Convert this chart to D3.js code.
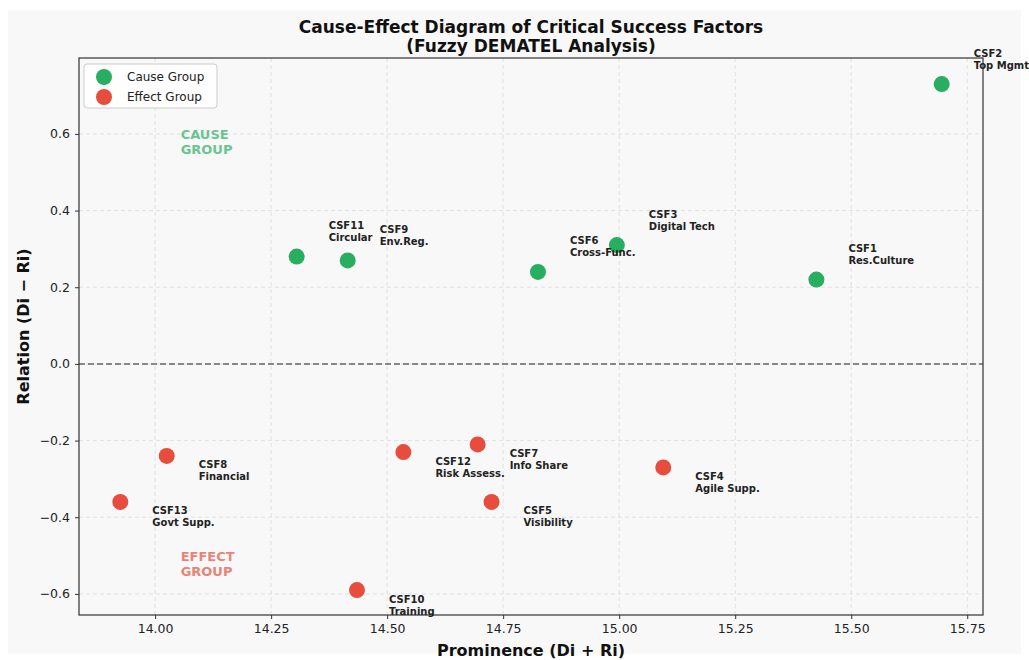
<!DOCTYPE html>
<html>
<head>
<meta charset="utf-8">
<script src="https://cdn.jsdelivr.net/npm/d3@7"></script>
<style>
  body { margin: 0; background: #ffffff; }
  text { font-family: "DejaVu Sans", sans-serif; }
</style>
</head>
<body>
<script>
//data
const factors   = ["CSF1", "CSF2", "CSF3", "CSF4", "CSF5", "CSF6", "CSF7", "CSF8", "CSF9", "CSF10", "CSF11", "CSF12", "CSF13"];
const shortName = ["Res.Culture", "Top Mgmt", "Digital Tech", "Agile Supp.", "Visibility", "Cross-Func.", "Info Share", "Financial", "Env.Reg.", "Training", "Circular", "Risk Assess.", "Govt Supp."];
const prominence = [15.425, 15.695, 14.995, 15.095, 14.725, 14.825, 14.695, 14.025, 14.415, 14.435, 14.305, 14.535, 13.925];
const relation   = [0.22, 0.73, 0.31, -0.27, -0.36, 0.24, -0.21, -0.24, 0.27, -0.59, 0.28, -0.23, -0.36];
const xTicks = [14.00, 14.25, 14.50, 14.75, 15.00, 15.25, 15.50, 15.75];
const yTicks = [-0.6, -0.4, -0.2, 0.0, 0.2, 0.4, 0.6];
const groups = ["Cause Group", "Effect Group"];

const canvWidth = 1029, canvHeight = 660;
const margin = {top: 58, right: 46, bottom: 45, left: 79};
const width = canvWidth - margin.left - margin.right;
const height = canvHeight - margin.top - margin.bottom;

const green = "#27ae60", red = "#e74c3c", bg = "#f8f8f8";

const data = factors.map((f, i) => ({
  id: f, name: shortName[i], x: prominence[i], y: relation[i],
  cause: relation[i] > 0
}));

const svg = d3.select("body").append("svg")
  .attr("width", canvWidth)
  .attr("height", canvHeight);

//figure background
svg.append("rect")
  .attr("x", 8).attr("y", 10)
  .attr("width", canvWidth - 16).attr("height", canvHeight - 16)
  .attr("fill", bg);

const g = svg.append("g")
  .attr("transform", `translate(${margin.left},${margin.top})`);

g.append("rect").attr("width", width).attr("height", height).attr("fill", bg);

//scales
const xScale = d3.scaleLinear().domain([13.836, 15.784]).range([0, width]);
const yScale = d3.scaleLinear().domain([-0.655, 0.798]).range([height, 0]);

//grid
g.append("g").selectAll("line").data(xTicks).enter().append("line")
  .attr("x1", d => xScale(d)).attr("x2", d => xScale(d))
  .attr("y1", 0).attr("y2", height)
  .attr("stroke", "#b0b0b0").attr("stroke-opacity", 0.3)
  .attr("stroke-dasharray", "4,3");
g.append("g").selectAll("line").data(yTicks).enter().append("line")
  .attr("x1", 0).attr("x2", width)
  .attr("y1", d => yScale(d)).attr("y2", d => yScale(d))
  .attr("stroke", "#b0b0b0").attr("stroke-opacity", 0.3)
  .attr("stroke-dasharray", "4,3");

//zero line
g.append("line")
  .attr("x1", 0).attr("x2", width)
  .attr("y1", yScale(0)).attr("y2", yScale(0))
  .attr("stroke", "#666").attr("stroke-width", 1.5)
  .attr("stroke-dasharray", "6,3");

//axes
const fmtY = d => d3.format(".1f")(d).replace("-", "\u2212");
const xAxis = g.append("g")
  .attr("transform", `translate(0,${height})`)
  .call(d3.axisBottom(xScale).tickValues(xTicks).tickFormat(d3.format(".2f")).tickSize(4).tickPadding(5));
const yAxis = g.append("g")
  .call(d3.axisLeft(yScale).tickValues(yTicks).tickFormat(fmtY).tickSize(4).tickPadding(5));
[xAxis, yAxis].forEach(a => {
  a.select(".domain").remove();
  a.selectAll("line").attr("stroke", "#333");
  a.selectAll("text").attr("font-size", 12.5).attr("fill", "#222")
    .attr("font-family", "DejaVu Sans, sans-serif");
});

//frame
g.append("rect").attr("width", width).attr("height", height)
  .attr("fill", "none").attr("stroke", "#333").attr("stroke-width", 1.2);

//region labels
const region = (txt, x, y, color) => {
  const t = g.append("text")
    .attr("x", xScale(x)).attr("y", yScale(y))
    .attr("font-size", 13).attr("font-weight", "bold")
    .attr("fill", color).attr("fill-opacity", 0.7);
  txt.forEach((s, i) => t.append("tspan").attr("x", xScale(x)).attr("dy", i === 0 ? "-0.2em" : "1.15em").text(s));
};
region(["CAUSE", "GROUP"], 14.055, 0.58, green);
region(["EFFECT", "GROUP"], 14.055, -0.52, red);

//points
g.selectAll("circle.pt").data(data).enter().append("circle")
  .attr("class", "pt")
  .attr("cx", d => xScale(d.x)).attr("cy", d => yScale(d.y))
  .attr("r", 8)
  .attr("fill", d => d.cause ? green : red);

//point labels
const lbl = g.selectAll("text.lbl").data(data).enter().append("text")
  .attr("class", "lbl")
  .attr("font-size", 10).attr("font-weight", "bold").attr("fill", "#222");
lbl.append("tspan")
  .attr("x", d => xScale(d.x) + 32)
  .attr("y", d => yScale(d.y) + (d.cause ? -27.5 : 12.5))
  .text(d => d.id);
lbl.append("tspan")
  .attr("x", d => xScale(d.x) + 32)
  .attr("y", d => yScale(d.y) + (d.cause ? -15.5 : 24.5))
  .text(d => d.name);

//legend
const leg = g.append("g").attr("transform", "translate(5,6)");
leg.append("rect").attr("width", 133).attr("height", 44).attr("rx", 3)
  .attr("fill", "#fff").attr("fill-opacity", 0.8)
  .attr("stroke", "#ccc");
groups.forEach((s, i) => {
  leg.append("circle").attr("cx", 20).attr("cy", 13 + i * 20).attr("r", 8)
    .attr("fill", i === 0 ? green : red);
  leg.append("text").attr("x", 43).attr("y", 13 + i * 20).attr("dy", "0.35em")
    .attr("font-size", 12).attr("fill", "#222").text(s);
});

//title and axis labels
const title = svg.append("text")
  .attr("text-anchor", "middle").attr("font-size", 17).attr("font-weight", "bold").attr("fill", "#111");
title.append("tspan").attr("x", margin.left + width / 2).attr("y", 33).text("Cause-Effect Diagram of Critical Success Factors");
title.append("tspan").attr("x", margin.left + width / 2).attr("y", 52).text("(Fuzzy DEMATEL Analysis)");

svg.append("text")
  .attr("x", margin.left + width / 2).attr("y", 656)
  .attr("text-anchor", "middle").attr("font-size", 16).attr("font-weight", "bold").attr("fill", "#111")
  .text("Prominence (Di + Ri)");

svg.append("text")
  .attr("transform", `translate(29,${margin.top + height / 2 - 10}) rotate(-90)`)
  .attr("text-anchor", "middle").attr("font-size", 16).attr("font-weight", "bold").attr("fill", "#111")
  .text("Relation (Di \u2212 Ri)");
</script>
</body>
</html>
